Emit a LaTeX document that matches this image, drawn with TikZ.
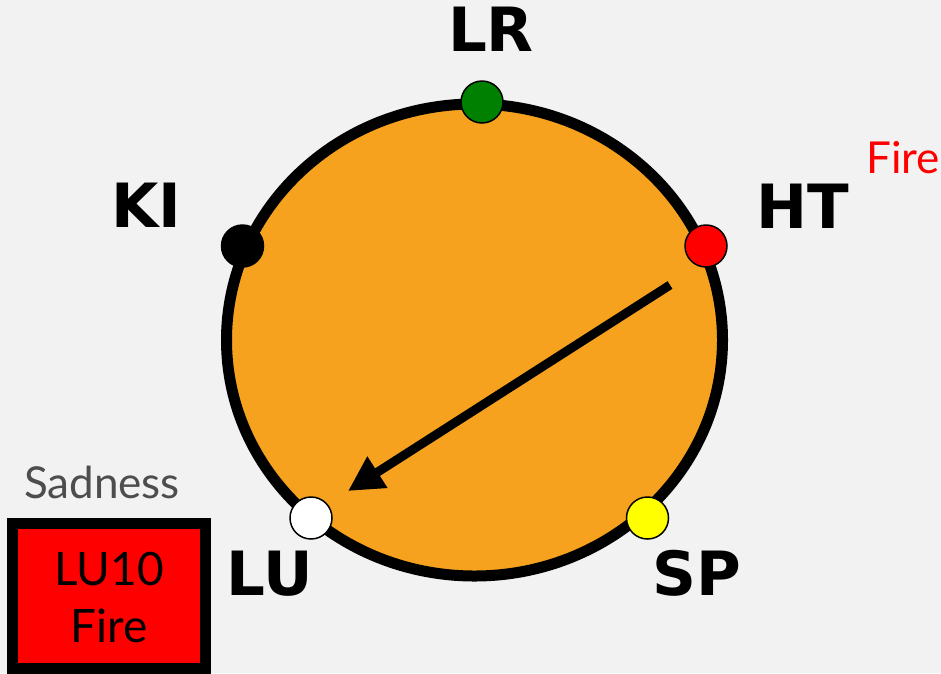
\documentclass[tikz,border=0pt]{standalone}
\usepackage{fontspec}
\setmainfont{Lato}
\newfontfamily\labfont{DejaVu Sans}
\usetikzlibrary{arrows.meta}
\definecolor{bg}{HTML}{F2F2F2}
\definecolor{orangefill}{HTML}{F6A21E}
\definecolor{dotgreen}{HTML}{008000}
\definecolor{dotred}{HTML}{FF0000}
\definecolor{dotyellow}{HTML}{FFFF00}
\definecolor{sadgray}{HTML}{4D4D4D}
\tikzset{
  dot/.style={circle, draw=black, line width=1.5pt, minimum size=42pt, inner sep=0pt},
  lab/.style={anchor=base, inner sep=0pt, font=\labfont\bfseries\fontsize{61}{61}\selectfont},
  thin/.style={anchor=base, inner sep=0pt, font=\fontsize{44}{44}\selectfont},
}
\begin{document}
\begin{tikzpicture}[x=1pt, y=-1pt]
\fill[bg] (0,0) rectangle (941,673);
\useasboundingbox (0,0) rectangle (941,673);
\draw[line width=11pt, fill=orangefill] (474.5,340) ellipse [x radius=248pt, y radius=236pt];
\node[dot, fill=dotgreen] (LRd) at (482,102) {};
\node[dot, fill=black] (KId) at (242.5,246) {};
\node[dot, fill=dotred] (HTd) at (706,246) {};
\node[dot, fill=dotyellow] (SPd) at (647.5,518) {};
\node[dot, fill=white] (LUd) at (311,518) {};
\node[lab] (LR) at (491,51) {LR};
\node[lab] (KI) at (146,227) {KI};
\node[lab] (HT) at (803,228) {HT};
\node[lab] (SP) at (697,595) {SP};
\node[lab] (LU) at (270,595) {LU};
\node[thin, text=dotred] (fireHT) at (903,173) {Fire};
\node[thin, text=sadgray] (sad) at (102,498) {Sadness};
\begin{scope}
\clip (0,0) rectangle (941,673);
\draw[line width=11pt, fill=dotred] (12.5,523.5) rectangle (205,668.5);
\end{scope}
\node[thin, font=\fontsize{46}{46}\selectfont] (lu10) at (109,585) {LU10};
\node[thin, font=\fontsize{46}{46}\selectfont] (fireb) at (109,642) {Fire};
\coordinate (as) at (670,285);
\coordinate (ae) at (348,491);
\draw[line width=9pt, -{Triangle[length=35pt,width=35pt]}] (as) -- (ae);
\end{tikzpicture}
\end{document}
